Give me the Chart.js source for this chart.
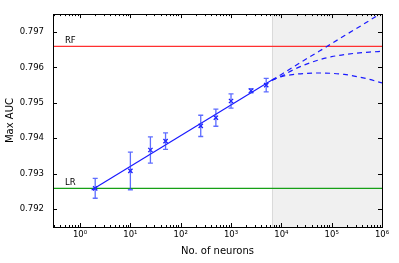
<!DOCTYPE html>
<html><head><meta charset="utf-8">
<script src="https://cdn.jsdelivr.net/npm/chart.js@4/dist/chart.umd.min.js"></script>
<style>html,body{margin:0;padding:0;background:#fff}#wrap{width:399px;height:263px;position:relative}</style>
</head><body><div id="wrap"><canvas id="c"></canvas></div>
<script>
// ---- data ----
const neurons = [2, 10, 25, 50, 250, 500, 1000, 2500, 5000];
const maxAuc  = [0.79259, 0.79308, 0.79367, 0.79392, 0.79435, 0.79458, 0.79505, 0.79534, 0.79550];
const aucErr  = [0.00028, 0.00053, 0.00037, 0.00023, 0.00030, 0.00024, 0.00020, 0.00006, 0.00019];

const fitX = [1.7, 6500];
const fitY = [0.79254, 0.79564];

const extrapX      = [6500, 10000, 17783, 31623, 56234, 100000, 177828, 316228, 562341, 1000000];
const extrapLinear = [0.79564, 0.79580, 0.79602, 0.79624, 0.79645, 0.79667, 0.79689, 0.79710, 0.79732, 0.79754];
const extrapSat    = [0.79564, 0.79575, 0.79594, 0.79609, 0.79621, 0.79630, 0.79636, 0.79640, 0.79643, 0.79645];
const extrapPeak   = [0.79564, 0.79574, 0.79580, 0.79583, 0.79584, 0.79583, 0.79580, 0.79574, 0.79566, 0.79556];

const rfAuc = 0.79659;
const lrAuc = 0.79259;
const refLabels = ['RF', 'LR'];
const refValues = [rfAuc, lrAuc];
const refLabelX = 0.5;

const spanStart = 6500;
const spanEnd = 1000000;

const xTicks = [1, 10, 100, 1000, 10000, 100000, 1000000];
const xTickLabels = ['10\u2070', '10\u00b9', '10\u00b2', '10\u00b3', '10\u2074', '10\u2075', '10\u2076'];
const yTicks = [0.792, 0.793, 0.794, 0.795, 0.796, 0.797];
const xMin = 0.29, xMax = 1000000, yMin = 0.7915, yMax = 0.7975;

const FONT = '"DejaVu Sans", sans-serif';
const BLUE = '#1a1aff';

const pts = (xs, ys) => xs.map((x, i) => ({x: x, y: ys[i]}));

const decor = {
  id: 'decor',
  beforeDatasetsDraw(chart) {
    const {ctx, chartArea: a, scales: {x, y}} = chart;
    const x0 = x.getPixelForValue(spanStart), x1 = x.getPixelForValue(spanEnd);
    ctx.save();
    ctx.fillStyle = '#f0f0f0';
    ctx.fillRect(x0, a.top, x1 - x0, a.bottom - a.top);
    ctx.strokeStyle = '#dadada';
    ctx.lineWidth = 1;
    ctx.beginPath(); ctx.moveTo(Math.round(x0) + 0.5, a.top); ctx.lineTo(Math.round(x0) + 0.5, a.bottom); ctx.stroke();
    ctx.restore();
  },
  afterDatasetsDraw(chart) {
    const {ctx, chartArea: a, scales: {x, y}} = chart;
    ctx.save();
    // error bars
    ctx.strokeStyle = 'rgba(40,60,255,0.75)';
    ctx.lineWidth = 1.3;
    neurons.forEach((n, i) => {
      const px = x.getPixelForValue(n);
      const pt = y.getPixelForValue(maxAuc[i] + aucErr[i]);
      const pb = y.getPixelForValue(maxAuc[i] - aucErr[i]);
      ctx.beginPath();
      ctx.moveTo(px, pt); ctx.lineTo(px, pb);
      ctx.moveTo(px - 2.5, pt); ctx.lineTo(px + 2.5, pt);
      ctx.moveTo(px - 2.5, pb); ctx.lineTo(px + 2.5, pb);
      ctx.stroke();
    });
    // reference labels
    ctx.fillStyle = '#000';
    ctx.font = '8.5px ' + FONT;
    ctx.textBaseline = 'alphabetic';
    ctx.textAlign = 'left';
    refLabels.forEach((t, i) => {
      ctx.fillText(t, x.getPixelForValue(refLabelX), y.getPixelForValue(refValues[i] + 0.0001));
    });
    // spines
    ctx.strokeStyle = '#000';
    ctx.lineWidth = 1;
    ctx.strokeRect(Math.round(a.left) + 0.5, Math.round(a.top) + 0.5, Math.round(a.right - a.left), Math.round(a.bottom - a.top));
    // inward ticks
    ctx.beginPath();
    for (let d = -1; d <= 6; d++) {
      for (let m = 1; m <= 9; m++) {
        const v = m * Math.pow(10, d);
        if (v < xMin || v > xMax * 1.0001) continue;
        const px = Math.round(x.getPixelForValue(v)) + 0.5;
        const len = m === 1 ? 4 : 2;
        ctx.moveTo(px, a.bottom); ctx.lineTo(px, a.bottom - len);
        ctx.moveTo(px, a.top); ctx.lineTo(px, a.top + len);
      }
    }
    yTicks.forEach(v => {
      const py = Math.round(y.getPixelForValue(v)) + 0.5;
      ctx.moveTo(a.left, py); ctx.lineTo(a.left + 4, py);
      ctx.moveTo(a.right, py); ctx.lineTo(a.right - 4, py);
    });
    ctx.stroke();
    ctx.restore();
  }
};

new Chart(document.getElementById('c'), {
  type: 'line',
  data: {
    datasets: [
      {data: pts(neurons, maxAuc), showLine: false, pointStyle: 'crossRot', pointRadius: 3, borderColor: BLUE, borderWidth: 1.3, pointBorderWidth: 1.3},
      {data: pts(fitX, fitY), borderColor: BLUE, borderWidth: 1.2, pointRadius: 0},
      {data: pts(extrapX, extrapLinear), borderColor: BLUE, borderWidth: 1.2, borderDash: [5, 4], pointRadius: 0},
      {data: pts(extrapX, extrapSat), borderColor: BLUE, borderWidth: 1.2, borderDash: [5, 4], pointRadius: 0, cubicInterpolationMode: 'monotone'},
      {data: pts(extrapX, extrapPeak), borderColor: BLUE, borderWidth: 1.2, borderDash: [5, 4], pointRadius: 0, cubicInterpolationMode: 'monotone'},
      {data: [{x: xMin, y: rfAuc}, {x: xMax, y: rfAuc}], borderColor: '#ff3030', borderWidth: 1.3, pointRadius: 0},
      {data: [{x: xMin, y: lrAuc}, {x: xMax, y: lrAuc}], borderColor: '#16a016', borderWidth: 1.3, pointRadius: 0}
    ]
  },
  options: {
    responsive: true,
    maintainAspectRatio: false,
    animation: false,
    devicePixelRatio: 1,
    layout: {padding: {left: 2, right: 17, top: 7, bottom: 6}},
    plugins: {legend: {display: false}, tooltip: {enabled: false}},
    scales: {
      x: {
        type: 'logarithmic', min: xMin, max: xMax,
        grid: {display: false, drawTicks: false}, border: {display: false},
        afterBuildTicks: s => { s.ticks = xTicks.map(v => ({value: v})); },
        afterFit: s => { s.height = 30; },
        ticks: {color: '#000', font: {family: FONT, size: 8.5}, padding: 3, maxRotation: 0, autoSkip: false,
                callback: (v) => { const i = xTicks.indexOf(v); return i >= 0 ? xTickLabels[i] : ''; }},
        title: {display: true, text: 'No. of neurons', color: '#000', font: {family: FONT, size: 10}, padding: {top: 2, bottom: 0}}
      },
      y: {
        type: 'linear', min: yMin, max: yMax,
        grid: {display: false, drawTicks: false}, border: {display: false},
        afterBuildTicks: s => { s.ticks = yTicks.map(v => ({value: v})); },
        afterFit: s => { s.width = 51; },
        ticks: {color: '#000', font: {family: FONT, size: 8.5}, padding: 9, callback: v => v.toFixed(3)},
        title: {display: true, text: 'Max AUC', color: '#000', font: {family: FONT, size: 10}, padding: {top: 2, bottom: 2}}
      }
    }
  },
  plugins: [decor]
});
</script>
</body></html>
